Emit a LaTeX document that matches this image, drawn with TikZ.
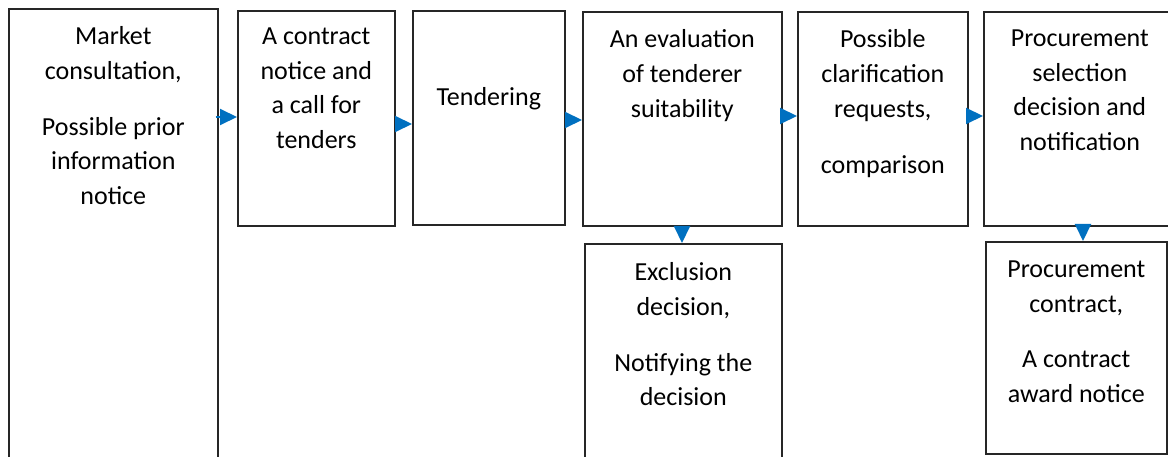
\documentclass[tikz,border=0pt]{standalone}
\usepackage{fontspec}
\setmainfont{Carlito}
\usetikzlibrary{arrows.meta}
\definecolor{flowblue}{HTML}{0070C0}
\begin{document}
\begin{tikzpicture}[x=1pt,y=-1pt,
  box/.style={draw=black!85,line width=1.6pt,inner sep=0pt,anchor=north west},
  txt/.style={anchor=north,align=center,inner sep=0pt,
    font=\fontsize{26pt}{34.7pt}\selectfont},
  flow/.style={draw=flowblue,line width=2pt,
    -{Triangle[length=17pt,width=16pt]}}]
\useasboundingbox (0,0) rectangle (1168,457);
\clip (0,0) rectangle (1168,457);

% process boxes
\node[box,minimum width=209pt,minimum height=470pt] (b1) at (8,8) {};
\node[box,minimum width=157pt,minimum height=215pt] (b2) at (237,10) {};
\node[box,minimum width=152pt,minimum height=214pt] (b3) at (412,10) {};
\node[box,minimum width=199pt,minimum height=214pt] (b4) at (582,11) {};
\node[box,minimum width=170pt,minimum height=214pt] (b5) at (797,11) {};
\node[box,minimum width=192pt,minimum height=214pt] (b6) at (983,11) {};
\node[box,minimum width=197pt,minimum height=230pt] (b7) at (584,243) {};
\node[box,minimum width=181pt,minimum height=212pt] (b8) at (985,241) {};

% box texts
\node[txt] (t1) at ([yshift=-18.5pt]b1.north) {Market\\consultation,\\[21pt]Possible prior\\information\\notice};
\node[txt] (t2) at ([yshift=-17.5pt]b2.north) {A contract\\notice and\\a call for\\tenders};
\node[txt] (t3) at ([yshift=-77.5pt]b3.north) {Tendering};
\node[txt] (t4) at ([yshift=-18.5pt]b4.north) {An evaluation\\of tenderer\\suitability};
\node[txt] (t5) at ([yshift=-18.5pt]b5.north) {Possible\\clarification\\requests,\\[22pt]comparison};
\node[txt] (t6) at ([yshift=-18.5pt]b6.north) {Procurement\\selection\\decision and\\notification};
\node[txt] (t7) at ([yshift=-19.5pt]b7.north) {Exclusion\\decision,\\[21pt]Notifying the\\decision};
\node[txt] (t8) at ([yshift=-19.5pt]b8.north) {Procurement\\contract,\\[21pt]A contract\\award notice};

% connectors
\draw[flow,shorten <=-3pt] (b1.east |- 0,117) -- (b2.west |- 0,117);
\draw[flow] (b2.east |- 0,124) -- (b3.west |- 0,124);
\draw[flow,shorten <=-7pt] (b3.east |- 0,120) -- (b4.west |- 0,120);
\draw[flow,shorten <=-3pt] (b4.east |- 0,116) -- (b5.west |- 0,116);
\draw[flow,shorten <=-4pt] (b5.east |- 0,116) -- (b6.west |- 0,116);
\draw[flow,shorten <=-2pt] (b4.south -| 682,0) -- (b7.north -| 682,0);
\draw[flow,shorten <=-7pt] (b6.south -| 1083,0) -- (b8.north -| 1083,0);
\end{tikzpicture}
\end{document}
